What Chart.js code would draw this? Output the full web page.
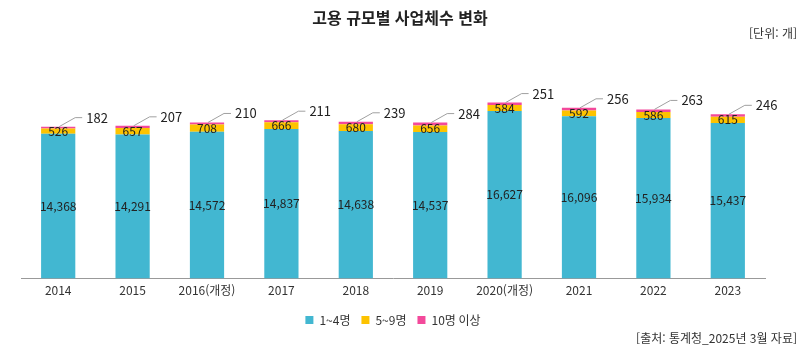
<!DOCTYPE html>
<html lang="ko">
<head>
<meta charset="utf-8">
<script src="https://cdn.jsdelivr.net/npm/chart.js@4"></script>
<style>
  html, body { margin: 0; padding: 0; background: #fff; }
  #wrap { position: relative; width: 800px; height: 348px; font-family: "Noto Sans CJK KR", "Noto Sans", sans-serif; color: #222; }
  #chart { position: absolute; left: 0; top: 0; }
  .title { position: absolute; top: 5px; left: 0; width: 800px; text-align: center; font-size: 16px; font-weight: 700; }
  .unit { position: absolute; top: 24px; right: 3px; font-size: 12px; color: #333; }
  .source { position: absolute; top: 329px; right: 3px; font-size: 12px; color: #333; }
</style>
</head>
<body>
<div id="wrap">
  <canvas id="chart" width="800" height="348"></canvas>
  <div class="title">고용 규모별 사업체수 변화</div>
  <div class="unit">[단위: 개]</div>
  <div class="source">[출처: 통계청_2025년 3월 자료]</div>
</div>
<script>
// 데이터
const years = ['2014', '2015', '2016(개정)', '2017', '2018', '2019', '2020(개정)', '2021', '2022', '2023'];
const small = [14368, 14291, 14572, 14837, 14638, 14537, 16627, 16096, 15934, 15437];   // 1~4명
const medium = [526, 657, 708, 666, 680, 656, 584, 592, 586, 615];                       // 5~9명
const large = [182, 207, 210, 211, 239, 284, 251, 256, 263, 246];                        // 10명 이상

const colors = ['#42b7d1', '#fdc300', '#f3499b'];
const fontFamily = '"Noto Sans CJK KR", "Noto Sans", sans-serif';

// 막대 안 숫자와 10명 이상 지시선
const labelPlugin = {
    id: 'valueLabels',
    afterDatasetsDraw(chart) {
        const ctx = chart.ctx;
        ctx.save();
        ctx.font = '12px ' + fontFamily;
        ctx.fillStyle = '#222';
        ctx.textBaseline = 'middle';

        // 1~4명, 5~9명: 가운데
        [0, 1].forEach(i => {
            const meta = chart.getDatasetMeta(i);
            meta.data.forEach((bar, j) => {
                const v = chart.data.datasets[i].data[j];
                ctx.textAlign = 'center';
                ctx.fillText(v.toLocaleString('en-US'), bar.x, (bar.y + bar.base) / 2);
            });
        });

        // 10명 이상: 지시선
        const meta = chart.getDatasetMeta(2);
        meta.data.forEach((bar, j) => {
            const v = chart.data.datasets[2].data[j];
            const x0 = bar.x + 1, y0 = bar.y;
            ctx.strokeStyle = '#a0a0a0';
            ctx.lineWidth = 1;
            ctx.beginPath();
            ctx.moveTo(x0, y0);
            ctx.lineTo(x0 + 16, y0 - 9);
            ctx.lineTo(x0 + 23, y0 - 9);
            ctx.stroke();
            ctx.textAlign = 'left';
            ctx.font = '13px ' + fontFamily;
            ctx.fillText(String(v), x0 + 27, y0 - 9);
        });
        ctx.restore();
    }
};

const ctx = document.getElementById('chart').getContext('2d');
new Chart(ctx, {
    type: 'bar',
    data: {
        labels: years,
        datasets: [
            { label: '1~4명', data: small, backgroundColor: colors[0] },
            { label: '5~9명', data: medium, backgroundColor: colors[1] },
            { label: '10명 이상', data: large, backgroundColor: colors[2] }
        ]
    },
    options: {
        responsive: false,
        animation: false,
        layout: { padding: { top: 77, left: 21, right: 35, bottom: 12 } },
        datasets: {
            bar: { categoryPercentage: 1, barPercentage: 0.46 }
        },
        scales: {
            x: {
                stacked: true,
                grid: { display: false, drawTicks: false },
                border: { display: true, color: '#999', width: 1 },
                ticks: { color: '#333', padding: 5, font: { size: 12, family: fontFamily } }
            },
            y: {
                stacked: true,
                display: false,
                min: 0,
                max: 20000
            }
        },
        plugins: {
            legend: {
                position: 'bottom',
                labels: {
                    boxWidth: 8,
                    boxHeight: 8,
                    padding: 11,
                    color: '#333',
                    font: { size: 12, family: fontFamily }
                }
            },
            tooltip: { enabled: false }
        }
    },
    plugins: [labelPlugin]
});
</script>
</body>
</html>
